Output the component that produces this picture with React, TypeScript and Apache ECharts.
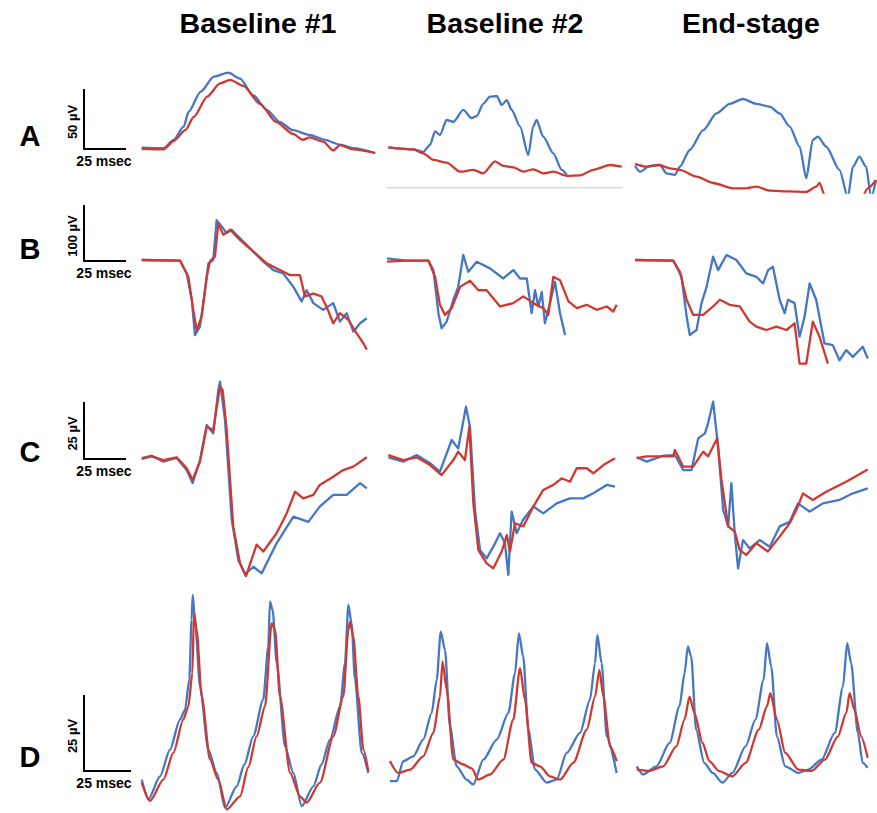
import React, { useEffect, useRef } from "react";
import * as echarts from "echarts";

// ---------- Text ----------
const columnTitles = ["Baseline #1", "Baseline #2", "End-stage"];
const rowLetters = ["A", "B", "C", "D"];
const amplitudeBarLabels = ["50 µV", "100 µV", "25 µV", "25 µV"];
const amplitudeBarValues = [50, 100, 25, 25]; // µV
const timeBarLabel = "25 msec";
const timeBarValue = 25; // msec

// ---------- Data: [msec, µV] ----------
// Row A
const A1_BLUE = [[1,-0.5],[14,-1],[20,6],[26,17],[29,29.5],[36,46],[44,58.6],[52.6,62],[59.5,57],[67.5,43],[75.4,31],[83,21],[91,14],[101,10],[110,6],[119,2],[127,-1],[140,-5]];
const A1_RED = [[1,-1.5],[14,-2],[20,5],[27,14],[32,25],[40,42],[47.6,53],[53.6,56],[61.5,51],[71.4,36],[81,21],[91,11],[97,6],[101,8],[109,4.5],[115,-3],[119,1.5],[127,-2],[140,-5]];
const A2_BLUE = [[0.8,-0.3],[15.7,-2],[21.6,-4],[25.6,1.7],[28.6,13],[31.5,10],[35.5,22.5],[39.5,21],[45.4,31],[50.4,24],[53.4,25.8],[57.3,36],[61.3,42],[65.3,42.5],[68.3,35],[71.3,39],[74.2,31],[79.2,17],[84.1,-6.7],[87,17],[89,22.5],[93,8.6],[99,-5.3],[104,-19],[107,-23]];
const A2_RED = [[0.8,-0.3],[15.7,-2],[21.6,-5.3],[27.6,-10.8],[35.5,-13],[43.5,-20.6],[51.4,-19],[57.3,-22],[64.3,-12],[69.2,-15.8],[75.2,-17],[81.1,-20.6],[87.1,-18.6],[93,-22],[99,-20.6],[107,-24],[115,-23.6],[122.8,-19],[132.7,-15],[139.7,-16.4]];
const A2_REFERENCE = [[0,-34],[140,-34]];
const A3_BLUE = [[0.6,-15.8],[3.6,-20.6],[9.5,-15.8],[15.5,-15],[19.4,-22],[24.4,-23.3],[27.4,-16.4],[33.3,-2.5],[41.3,14],[49.2,28],[57.1,36],[65,40],[73,36],[81,33.6],[86.9,28],[92.9,17],[98.8,0.3],[102.8,-26],[106.7,6],[109.7,8.6],[114.7,0.3],[122.6,-19],[127.6,-42],[130.6,-16.4],[134.5,-8],[138.5,-16.4],[141.5,-42],[144.4,-27.5]];
const A3_RED = [[0.6,-14],[7.5,-16.4],[15,-15],[21.4,-17.8],[27.4,-19],[37.3,-24.7],[47.2,-30],[59.1,-34.4],[67,-34.4],[73,-33],[81,-36.4],[92.9,-37],[102.8,-37.5],[108.7,-33],[110.7,-30],[113.7,-40],[120,-45],[135,-45],[139.5,-34.4],[144.4,-27.5]];

// Row B
const B1_BLUE = [[1,0],[23.8,-1],[27.8,-24],[30.8,-71],[32.7,-134],[35.7,-119],[38.7,-54],[40.7,-6],[43.6,0],[45.6,71],[48.6,60],[51.6,48],[54.6,54],[58.5,42],[65.5,21],[73.4,-3],[79.4,-18],[85.3,-24],[91.3,-48],[96.2,-74],[99.2,-54],[103.2,-77],[109,-89],[115,-77],[119,-110],[123,-95],[127,-128],[131,-113],[135,-104]];
const B1_RED = [[1,0],[23.8,-1],[28.8,-30],[31.7,-89],[33.7,-125],[36.7,-101],[39.7,-30],[41.7,-2],[44.6,6],[46.6,65],[49.6,45],[53.6,54],[59.5,36],[67.5,15],[75.4,-6],[83.3,-18],[89.3,-27],[95.2,-27],[98.2,-65],[103.2,-60],[108,-65],[111,-83],[115,-113],[119,-95],[124,-107],[129,-131],[133,-149],[135,-160]];
const B2_BLUE = [[0,3],[11.7,-1],[24.6,-1],[27.6,-18],[30.6,-95],[32.5,-122],[35.5,-110],[39.5,-71],[42.4,-48],[45.4,9],[48.4,-21],[53.4,-3],[61.3,-15],[69.2,-33],[75.2,-18],[79.2,-33],[83.2,-33],[86.1,-95],[88.1,-54],[90.1,-83],[92.1,-57],[94,-113],[97,-77],[100,-39],[103,-95],[106,-134]];
const B2_RED = [[0,-3],[11.7,-1],[24.6,-1],[28.6,-30],[31.5,-80],[34.5,-98],[38.5,-86],[43.5,-48],[49.4,-37],[54.4,-54],[59.3,-54],[67.3,-83],[75.2,-77],[81.1,-65],[87.1,-77],[93,-86],[96,-98],[99,-30],[103,-36],[108,-74],[113,-86],[118.9,-80],[124.8,-89],[130.8,-83],[134.7,-92],[136.7,-80]];
const B3_BLUE = [[0.6,0],[23.4,-1],[28.4,-30],[31.4,-101],[33.3,-134],[37.3,-125],[40.3,-77],[43.3,-48],[47.2,6],[50.2,-18],[55.2,9],[61.1,0],[67,-24],[73,-30],[77,-42],[80,-18],[82.9,-12],[86.9,-71],[89.9,-95],[91.9,-71],[95.8,-77],[98.8,-137],[101.8,-101],[104.8,-42],[108.7,-71],[113.7,-149],[118.6,-152],[122.6,-179],[126.6,-161],[130.6,-173],[136.5,-155],[139.5,-176]];
const B3_RED = [[0.6,0],[23.4,-1],[27.4,-21],[31.4,-71],[35.3,-98],[41.3,-98],[47.2,-83],[51.2,-71],[57.1,-80],[63.1,-83],[69,-110],[73,-119],[79,-125],[85,-119],[91,-125],[95.8,-113],[98.8,-185],[102.8,-185],[106.7,-110],[110.7,-137],[115.7,-185]];

// Row C
const C1_BLUE = [[1,0],[7,1],[13.9,-1.6],[21.8,0],[27.8,-5.3],[31.3,-11],[35.7,-0.9],[39.7,14.5],[43.6,10.8],[46.6,29.8],[47.6,33.5],[50.6,16.7],[54.6,-27],[58.5,-44.7],[62.5,-51],[67.5,-47.7],[72.4,-50.6],[81.3,-37.4],[91.3,-25.7],[100.2,-28],[107,-21.3],[115,-16.2],[123,-16.2],[131,-11],[135,-13.3]];
const C1_RED = [[1,-0.4],[7,0.7],[13.9,-0.9],[21.8,0.3],[27.8,-4.5],[31.3,-9.6],[35.7,-1.6],[39.7,13.7],[43.6,12.3],[47.6,31.3],[49.2,29.8],[51.6,12.3],[55.5,-30],[59.5,-46],[63.1,-51.8],[69.4,-38],[73.4,-41],[81.3,-33],[87.3,-24.3],[92.3,-14.8],[97.2,-17.7],[103.2,-16.2],[107,-11.8],[115,-8.2],[121,-5.3],[127,-3.8],[135,0.3]];
const C2_BLUE = [[0.8,0.3],[9.7,-1.6],[17.7,1.3],[25.6,-2.3],[31.5,-6],[38.5,7.9],[42.4,4.2],[47,22.5],[49.4,13.7],[52.4,-22.8],[55.4,-40.4],[59.3,-44],[63.3,-38.9],[67.3,-33],[70.2,-37.4],[72.2,-51.3],[74.2,-23.5],[77.2,-33],[81.1,-27],[87.1,-21.3],[93,-24.3],[101,-19.9],[108.9,-17.7],[116.8,-17.7],[122.8,-15.5],[130.8,-11.8],[135.7,-12.6]];
const C2_RED = [[0.8,1.3],[9.7,-0.9],[17.7,0.3],[25.6,-3.1],[32.5,-7.5],[39.5,-0.9],[42.4,2.8],[46.4,-0.9],[49,13.7],[51.4,-19.9],[54.4,-40.4],[59.3,-46.2],[63.3,-48.4],[68.3,-41],[71.3,-33.8],[73.2,-41],[76.2,-28.6],[81.1,-30],[87.1,-21.3],[93,-14],[99,-11.8],[104,-8.9],[108.9,-10.4],[112.9,-4.5],[118.9,-4.5],[122.8,-6.7],[128.8,-3.1],[135.7,-0.1]];
const C3_BLUE = [[1.6,0.3],[7.5,-1.6],[17.5,1],[24.4,1.3],[29.4,-5.3],[34.3,-5.3],[38.3,8.6],[42.3,10.8],[44.2,15.2],[47.2,24.7],[50.2,5],[53.2,-22.8],[56.2,-30],[58.1,-11],[60.1,-33],[62.1,-48.4],[65,-36],[69,-39.6],[75,-36],[81,-38.9],[86.9,-30],[92.9,-28],[97.8,-19.9],[104.8,-23.5],[112.7,-19.9],[122.6,-18.4],[130.6,-15.5],[139.5,-13.3]];
const C3_RED = [[1.6,-0.1],[7.5,0.7],[23.4,0.7],[24.4,3.5],[29.4,-3.8],[35.3,-3.8],[41.3,2.8],[44.2,0.7],[49.6,8.6],[52.2,-9.6],[56.2,-30],[60.1,-32.3],[63.1,-40.4],[67,-42.5],[73,-37.4],[79.9,-41],[86.9,-34.5],[92.9,-28.6],[97.8,-21.3],[100.8,-15.5],[106.7,-18.4],[114.7,-14.8],[126.6,-10.4],[139.5,-5]];

// Row D
const D1_BLUE = [[0.4,-3],[3.9,-9.5],[10.1,-1.9],[15.4,6.9],[20.7,16.8],[23.4,20],[25.7,30],[26.9,49.7],[27.5,57.9],[28.7,49.7],[31.4,27.7],[35.8,6.9],[40.3,-0.8],[44.7,-12.3],[50.9,-5.2],[55,2],[59.7,11.3],[65,23.4],[67.7,40.9],[68.6,55.7],[70,53],[72.2,35.4],[76.6,8],[81,-0.8],[85.5,-11.7],[91.7,-5.2],[96,2],[100.5,10.2],[105.9,21.2],[108.5,35.4],[110.3,54.6],[112,48.6],[113.8,30],[117.4,5.8],[120.9,-0.8]];
const D1_RED = [[0.4,-4],[4.8,-10],[11.9,-3],[17.2,5.8],[22.5,16.8],[25.2,21.2],[27.3,32],[28.2,51.9],[29.6,46.4],[32.3,24.4],[36.7,3.6],[41.1,-3],[45.6,-12.8],[52.7,-8.5],[57,1],[61.5,11.3],[66,21.2],[69.5,48.6],[71.3,46.4],[73.9,24.4],[79.3,-0.8],[84.6,-8.5],[88.1,-10.6],[95.2,-4],[102.3,11.3],[107.6,24.4],[110.3,46.4],[111.2,49.1],[112.9,44.2],[115.6,24.4],[118.3,6.9],[120.9,-0.2]];
const D2_BLUE = [[0.5,-3.5],[4.1,-3.5],[7.6,3.1],[12.9,4.7],[18.2,10.2],[22.7,19],[25.4,30],[27.5,45.8],[29.8,39.8],[32.4,14.6],[36,1.4],[41.3,-3],[44.8,-4.6],[50.2,3.6],[57.3,10.2],[63.5,19],[67,32],[69.1,45.2],[71.4,37.6],[74.1,13.5],[77.7,0.3],[83.9,-4],[89.2,-3],[94.5,5.8],[101.6,12.4],[106.9,23.4],[109.6,35.4],[110.8,44.7],[113.1,35.4],[115.8,11.3],[121.1,-0.8]];
const D2_RED = [[0.5,3.1],[4.9,-0.8],[11.2,0.3],[18.2,4.7],[23.6,12.4],[27.1,24.4],[28.5,36],[30.7,26.6],[34.2,3.6],[39.5,2],[44,0.7],[47.5,-3],[53.7,-1.3],[60.8,3.6],[66.1,16.8],[69.7,33.8],[72.3,23.4],[75.9,2.5],[80.3,1.4],[85.6,-1.9],[91,-3],[98,2.5],[105.2,13.5],[109.6,24.4],[111.9,33.2],[114,24.4],[117.6,8],[121.1,3.1]];
const D3_BLUE = [[0.9,1.4],[4.4,-1.3],[11.5,1.4],[18.6,9.1],[23.9,21.2],[26.6,32],[28.4,40.9],[30.2,37.6],[32.8,13.5],[37.2,2.5],[41.7,-0.8],[47,-4],[52.3,-0.8],[59.4,8],[64.7,16.8],[69.1,30],[70.9,42],[73.2,34.3],[76.2,11.3],[80.7,1.4],[87.8,-0.8],[93.1,0.3],[100.2,3.6],[107.3,12.4],[111.7,27.7],[114,42],[116.1,35.4],[119.7,12.4],[122.3,2.5],[125,0.9]];
const D3_RED = [[0.9,0.3],[8,-0.1],[15.1,1.4],[22.2,8],[26.6,16.8],[29.3,24.4],[31.9,19],[36.3,9.1],[39.9,3.1],[45.2,-0.2],[52.3,-1.9],[59.4,2.5],[66.5,13.5],[70.9,21.2],[72.7,25.5],[76.2,16.8],[80.7,5.8],[87.8,0.3],[94.9,-0.1],[102,3.6],[109,11.3],[113.5,19],[115.3,25.5],[117.9,20],[121.4,11.3],[125,4.2]];

const TRACES = [
  [[A1_BLUE, A1_RED], [A2_BLUE, A2_RED], [A3_BLUE, A3_RED]],
  [[B1_BLUE, B1_RED], [B2_BLUE, B2_RED], [B3_BLUE, B3_RED]],
  [[C1_BLUE, C1_RED], [C2_BLUE, C2_RED], [C3_BLUE, C3_RED]],
  [[D1_BLUE, D1_RED], [D2_BLUE, D2_RED], [D3_BLUE, D3_RED]],
];

// ---------- Layout (pixels) ----------
const ROWS = [
  { top: 63, yMin: -38, yMax: 70, pxPerUv: 1.2, xMax: 145, pxPerMs: 1.68, lefts: [140, 387, 634], corner: 149, letterY: 136, smooth: 0.25 },
  { top: 215.2, yMin: -200, yMax: 80, pxPerUv: 0.56, xMax: 145, pxPerMs: 1.68, lefts: [140, 387, 634], corner: 261, letterY: 249, smooth: 0 },
  { top: 378.2, yMin: -55, yMax: 35, pxPerUv: 2.28, xMax: 145, pxPerMs: 1.68, lefts: [140, 387, 634], corner: 459, letterY: 452, smooth: 0 },
  { top: 588.6, yMin: -14, yMax: 60, pxPerUv: 3.04, xMax: 130, pxPerMs: 1.88, lefts: [141, 389, 635], corner: 771, letterY: 757, smooth: 0.25 },
];
const TITLE_X = [258, 505, 751];
const BLUE = "#4677c4";
const RED = "#cc3a33";
const FONT = '"Liberation Sans", Arial, Helvetica, sans-serif';

function buildOption() {
  const grid: any[] = [];
  const xAxis: any[] = [];
  const yAxis: any[] = [];
  const series: any[] = [];
  const graphic: any[] = [];

  ROWS.forEach((r, ri) => {
    r.lefts.forEach((left, ci) => {
      const idx = grid.length;
      grid.push({
        left,
        top: r.top,
        width: r.xMax * r.pxPerMs,
        height: (r.yMax - r.yMin) * r.pxPerUv,
        containLabel: false,
        show: false,
      });
      xAxis.push({ type: "value", gridIndex: idx, min: 0, max: r.xMax, show: false });
      yAxis.push({ type: "value", gridIndex: idx, min: r.yMin, max: r.yMax, show: false });
      const [blue, red] = TRACES[ri][ci];
      if (ri === 0 && ci === 1) {
        series.push({
          type: "line", xAxisIndex: idx, yAxisIndex: idx, data: A2_REFERENCE,
          symbol: "none", lineStyle: { color: "#d9d9d9", width: 1.5 }, silent: true, z: 1,
        });
      }
      series.push({
        type: "line", xAxisIndex: idx, yAxisIndex: idx, data: blue, symbol: "none",
        smooth: r.smooth, smoothMonotone: "x",
        clip: true, lineStyle: { color: BLUE, width: 2.3, join: "round" }, silent: true, z: 2,
      });
      series.push({
        type: "line", xAxisIndex: idx, yAxisIndex: idx, data: red, symbol: "none",
        smooth: r.smooth, smoothMonotone: "x",
        clip: true, lineStyle: { color: RED, width: 2.3, join: "round" }, silent: true, z: 3,
      });
    });

    // Row letter
    graphic.push({
      type: "text", x: 30, y: r.letterY,
      style: { text: rowLetters[ri], font: `bold 29px ${FONT}`, fill: "#000", textAlign: "center", textVerticalAlign: "middle" },
    });
    // Scale bar
    const vLen = amplitudeBarValues[ri] * r.pxPerUv;
    const hLen = timeBarValue * r.pxPerMs;
    graphic.push({
      type: "polyline",
      shape: { points: [[84, r.corner - vLen], [84, r.corner], [84 + hLen, r.corner]] },
      style: { stroke: "#000", lineWidth: 2, fill: null },
    });
    graphic.push({
      type: "text", x: 72, y: r.corner - vLen / 2 + 3, rotation: Math.PI / 2,
      style: { text: amplitudeBarLabels[ri], font: `bold 13px ${FONT}`, fill: "#000", textAlign: "center", textVerticalAlign: "middle" },
    });
    graphic.push({
      type: "text", x: 104, y: r.corner + 12,
      style: { text: timeBarLabel, font: `bold 14px ${FONT}`, fill: "#000", textAlign: "center", textVerticalAlign: "middle" },
    });
  });

  columnTitles.forEach((t, i) => {
    graphic.push({
      type: "text", x: TITLE_X[i], y: 23,
      style: { text: t, font: `bold 28.5px ${FONT}`, fill: "#000", textAlign: "center", textVerticalAlign: "middle" },
    });
  });

  return {
    animation: false,
    backgroundColor: "#ffffff",
    grid, xAxis, yAxis, series, graphic,
  };
}

export default function App() {
  const ref = useRef<HTMLDivElement>(null);
  useEffect(() => {
    if (!ref.current) return;
    const chart = echarts.init(ref.current, null, { renderer: "svg" });
    chart.setOption(buildOption());
    return () => chart.dispose();
  }, []);
  return (
    <div
      ref={ref}
      style={{ position: "fixed", left: 0, top: 0, width: 877, height: 813, background: "#fff" }}
    />
  );
}
